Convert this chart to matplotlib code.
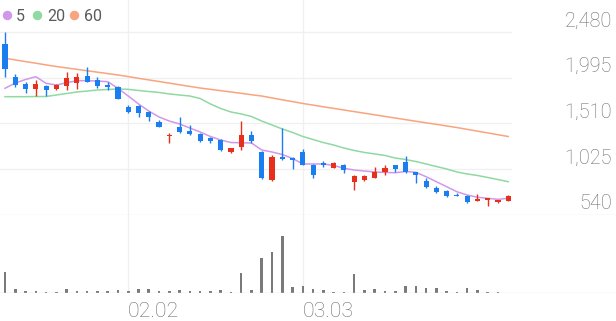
import matplotlib
matplotlib.use("Agg")
import matplotlib.pyplot as plt
import numpy as np
from matplotlib.transforms import blended_transform_factory

# daily candles (KRW), oldest first
opens = [2353, 2006, 1929, 1876, 1907, 1876, 1907, 1942, 2017, 1971,
         1918, 1894, 1688, 1699, 1629, 1529, 1377, 1476, 1434, 1399,
         1353, 1335, 1211, 1264, 1388, 1211, 911, 1158, 1141, 1205,
         1070, 1088, 1041, 1070, 887, 911, 935, 991, 1070, 1105,
         993, 904, 829, 794, 752, 745, 692, 699, 681, 692]
highs = [2480, 2035, 1947, 1971, 1918, 1929, 2059, 2042, 2106, 2000,
         1953, 1907, 1706, 1706, 1642, 1547, 1412, 1582, 1494, 1409,
         1364, 1346, 1255, 1540, 1430, 1218, 1176, 1459, 1152, 1236,
         1080, 1116, 1099, 1080, 964, 964, 1052, 1070, 1075, 1169,
         996, 929, 851, 800, 776, 749, 763, 720, 704, 747]
lows = [2000, 1897, 1833, 1805, 1805, 1865, 1865, 1872, 1945, 1883,
        1865, 1765, 1624, 1582, 1536, 1470, 1306, 1412, 1388, 1314,
        1300, 1218, 1194, 1229, 1306, 922, 900, 1125, 1024, 1065,
        935, 1046, 1035, 982, 805, 900, 932, 964, 993, 990,
        876, 829, 770, 736, 738, 671, 688, 635, 664, 690]
closes = [2084, 1918, 1876, 1929, 1865, 1918, 1989, 2006, 1953, 1911,
          1900, 1770, 1635, 1624, 1576, 1476, 1388, 1423, 1399, 1324,
          1324, 1229, 1247, 1388, 1328, 929, 1158, 1130, 1123, 1070,
          964, 1070, 1088, 1017, 953, 953, 999, 1035, 1028, 993,
          964, 840, 787, 741, 741, 675, 710, 717, 699, 745]
volumes = [207, 40, 23, 23, 10, 10, 43, 23, 17, 17,
           17, 27, 17, 43, 43, 23, 23, 27, 17, 23,
           17, 27, 10, 203, 30, 353, 413, 573, 57, 68,
           43, 30, 10, 10, 190, 33, 40, 23, 17, 67,
           73, 50, 50, 23, 10, 50, 27, 10, 7, 3]

ma5 = [1883, 1939, 1976, 2006, 1936, 1918, 1942, 1964, 1964, 1960,
       1953, 1883, 1801, 1717, 1642, 1579, 1536, 1505, 1462, 1420,
       1372, 1335, 1308, 1306, 1303, 1229, 1208, 1181, 1139, 1081,
       1081, 1081, 1065, 1035, 1017, 1006, 996, 991, 988, 1001,
       993, 946, 893, 840, 787, 752, 728, 717, 706, 717]
ma20 = [1794, 1794, 1794, 1796, 1796, 1812, 1828, 1844, 1854, 1865,
        1870, 1876, 1872, 1860, 1849, 1839, 1823, 1812, 1801, 1775,
        1717, 1669, 1632, 1611, 1584, 1536, 1494, 1452, 1415, 1372,
        1340, 1308, 1282, 1250, 1224, 1203, 1187, 1171, 1144, 1128,
        1107, 1081, 1054, 1028, 996, 975, 959, 938, 916, 893]
ma60 = [2201, 2184, 2166, 2149, 2131, 2114, 2099, 2084, 2069, 2054,
        2039, 2024, 2007, 1989, 1972, 1955, 1938, 1920, 1903, 1886,
        1872, 1858, 1844, 1830, 1815, 1801, 1781, 1761, 1742, 1722,
        1705, 1687, 1670, 1653, 1636, 1619, 1602, 1585, 1568, 1551,
        1534, 1517, 1501, 1484, 1467, 1448, 1429, 1410, 1391, 1372]

price_ticks = [540, 1025, 1510, 1995, 2480]
date_idx = [12, 29]
date_labels = ["02.02", "03.03"]
ma_names = ["5", "20", "60"]

UP, DOWN = "#e6301c", "#1a7ef0"
MA_COLORS = ["#d197ec", "#8fd9a2", "#f8a47f"]
GRID = "#f0f0f0"
TXT = "#6e6e6e"
FONT = ["Roboto", "DejaVu Sans"]

W, H = 616, 321
fig = plt.figure(figsize=(W / 100, H / 100), dpi=100)
ax = fig.add_axes([0, (H - 215) / H, 1, 215 / H])
axv = fig.add_axes([0, (H - 293) / H, 1, 78 / H])

step = 10.27
xlim = (-5 / step, (W - 5) / step)
x = np.arange(len(closes))

for a in (ax, axv):
    a.set_xlim(*xlim)
    a.axis("off")
    for i in date_idx:
        a.axvline(i, color=GRID, lw=1, zorder=0)

ax.set_ylim(540, 540 + 215 * 10.6)
axv.set_ylim(0, 780)

# price grid + labels
tr = blended_transform_factory(ax.transAxes, ax.transData)
for p in price_ticks:
    if p == price_ticks[0]:
        ax.axhline(p, color="#e6e6e6", lw=1, zorder=0)
    else:
        ax.axhline(p, xmax=511 / W, color=GRID, lw=1, zorder=0)
    ax.annotate(f"{p:,}", xy=(612 / W, p), xycoords=tr, xytext=(0, 4),
                textcoords="offset points", ha="right", va="baseline",
                fontsize=14.3, color=TXT, family=FONT, fontweight="light")

# moving averages
for vals, c in zip([ma60, ma20, ma5], MA_COLORS[::-1]):
    ax.plot(x, vals, color=c, lw=1.1, zorder=2, solid_joinstyle="round")

# candles
o, h, l, c = map(np.array, (opens, highs, lows, closes))
cols = [UP if cc > oo else DOWN for oo, cc in zip(o, c)]
ax.vlines(x, l, h, colors=cols, lw=1.0, zorder=3)
body_lo = np.minimum(o, c)
body_h = np.maximum(np.abs(c - o), 14)
ax.bar(x, body_h, bottom=body_lo, width=0.5, color=cols, zorder=4, linewidth=0)

# volume
axv.bar(x, volumes, width=0.25, color="#7a7a7a", linewidth=0, zorder=2)
axv.axhline(0, color="#dedede", lw=1, zorder=3)

# date labels
trv = blended_transform_factory(axv.transData, axv.transAxes)
for i, lab in zip(date_idx, date_labels):
    axv.text(i, -24 / 78, lab, transform=trv, ha="left", va="baseline",
             fontsize=15.3, color=TXT, family=FONT, fontweight="light")

# legend
for cx, tx, name, col in zip([6.7, 37, 74], [16, 47, 84], ma_names, MA_COLORS):
    fig.add_artist(plt.Line2D([cx / W], [1 - 15 / H], marker="o", ms=5.8,
                              color=col, mec=col, transform=fig.transFigure))
    fig.text(tx / W, 1 - 20.7 / H, name, ha="left", va="baseline",
             fontsize=11.5, color="#5a5a5a", family=FONT)

fig.savefig("out.png", dpi=100)
